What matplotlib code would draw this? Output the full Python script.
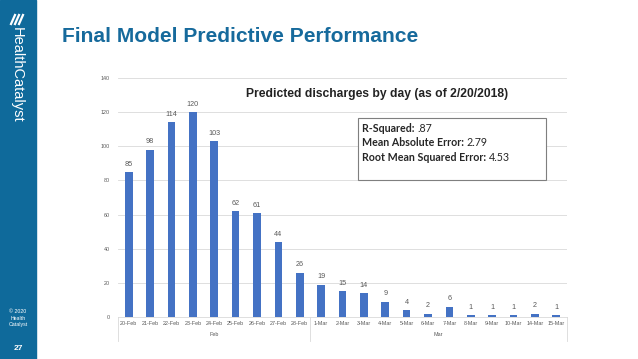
import matplotlib.pyplot as plt
import matplotlib.patches as patches
import numpy as np

days = ['20-Feb', '21-Feb', '22-Feb', '23-Feb', '24-Feb', '25-Feb', '26-Feb', '27-Feb', '28-Feb',
        '1-Mar', '2-Mar', '3-Mar', '4-Mar', '5-Mar', '6-Mar', '7-Mar', '8-Mar', '9-Mar', '10-Mar',
        '14-Mar', '15-Mar']
discharges = [85, 98, 114, 120, 103, 62, 61, 44, 26,
              19, 15, 14, 9, 4, 2, 6, 1, 1, 1, 2, 1]
months = ['Feb', 'Mar']
month_counts = [9, 12]
stats_labels = ['R-Squared: ', 'Mean Absolute Error: ', 'Root Mean Squared Error: ']
stats_values = ['.87', '2.79', '4.53']

W, H = 638, 359
plt.rcParams['font.family'] = ['Liberation Sans', 'DejaVu Sans']
fig = plt.figure(figsize=(W / 100, H / 100), dpi=100)
fig.patch.set_facecolor('white')

def fx(px):
    return px / W

def fy(py):
    return 1 - py / H

# sidebar
fig.patches.append(patches.Rectangle((0, 0), fx(36), 1, transform=fig.transFigure,
                                     color='#0f6a9b', zorder=0))
fig.text(fx(17), fy(27), 'HealthCatalyst', rotation=-90, color='white', fontsize=10.5,
         ha='center', va='top')
# little stripes for the logo mark
for k in range(3):
    fig.lines.append(plt.Line2D([fx(11 + 4 * k), fx(15 + 4 * k)], [fy(24), fy(15)],
                                transform=fig.transFigure, color='white', lw=1.6))
fig.text(fx(18), fy(318), '\u00a9 2020\nHealth\nCatalyst', color='white', fontsize=3.8,
         ha='center', va='center', linespacing=1.3)
fig.text(fx(18), fy(348), '27', color='white', fontsize=6, fontweight='bold',
         ha='center', va='center')

fig.text(fx(62), fy(37), 'Final Model Predictive Performance', color='#166a9c',
         fontsize=15.1, fontweight='bold', ha='left', va='center')

n = len(days)
x = np.arange(n)
ax = fig.add_axes([fx(118), 1 - 317 / H, (567 - 118) / W, (317 - 78) / H])
ax.bar(x, discharges, width=0.36, color='#4472c4', zorder=3)
for xi, v in zip(x, discharges):
    ax.text(xi, v + 2.5, str(v), ha='center', va='bottom', fontsize=5.2, color='#595959')

ax.set_xlim(-0.5, n - 0.5)
ax.set_ylim(0, 140)
ax.set_yticks(np.arange(0, 141, 20))
ax.yaxis.grid(True, color='#d9d9d9', linewidth=0.6, zorder=0)
ax.set_xticks(x)
ax.set_xticklabels(days, fontsize=3.9, color='#595959')
ax.tick_params(axis='y', labelsize=3.9, labelcolor='#595959', length=0, pad=6)
ax.tick_params(axis='x', length=0, pad=3)
for s in ['top', 'right', 'left']:
    ax.spines[s].set_visible(False)
ax.spines['bottom'].set_color('#d9d9d9')
ax.spines['bottom'].set_linewidth(0.6)

# month groups below the day labels
trans = ax.get_xaxis_transform()
edges = np.concatenate([[0], np.cumsum(month_counts)]) - 0.5
for e in edges:
    ax.plot([e, e], [0, -0.1], transform=trans, color='#d9d9d9', lw=0.6, clip_on=False)
for m, a, b in zip(months, edges[:-1], edges[1:]):
    ax.text((a + b) / 2, -0.075, m, transform=trans, ha='center', va='center',
            fontsize=3.9, color='#595959')

fig.text(fx(377), fy(94), 'Predicted discharges by day (as of 2/20/2018)', fontsize=8.7,
         fontweight='bold', ha='center', va='center', color='#222222')

# stats box
fig.patches.append(patches.Rectangle((fx(358), fy(180)), fx(546) - fx(358), fy(118) - fy(180),
                                     transform=fig.transFigure, facecolor='white',
                                     edgecolor='#7f7f7f', linewidth=0.8, zorder=5))
renderer = fig.canvas.get_renderer()
for i, (lab, val) in enumerate(zip(stats_labels, stats_values)):
    y = fy(129 + 14 * i)
    t = fig.text(fx(362), y, lab, fontsize=7.7, fontweight='bold', family=['Lato', 'DejaVu Sans'],
                 ha='left', va='center', color='#262626', zorder=6)
    bb = t.get_window_extent(renderer)
    fig.text(bb.x1 / fig.dpi / fig.get_figwidth(), y, val, fontsize=7.7,
             family=['Lato', 'DejaVu Sans'], ha='left', va='center', color='#262626', zorder=6)

fig.savefig('out.png', dpi=100)
